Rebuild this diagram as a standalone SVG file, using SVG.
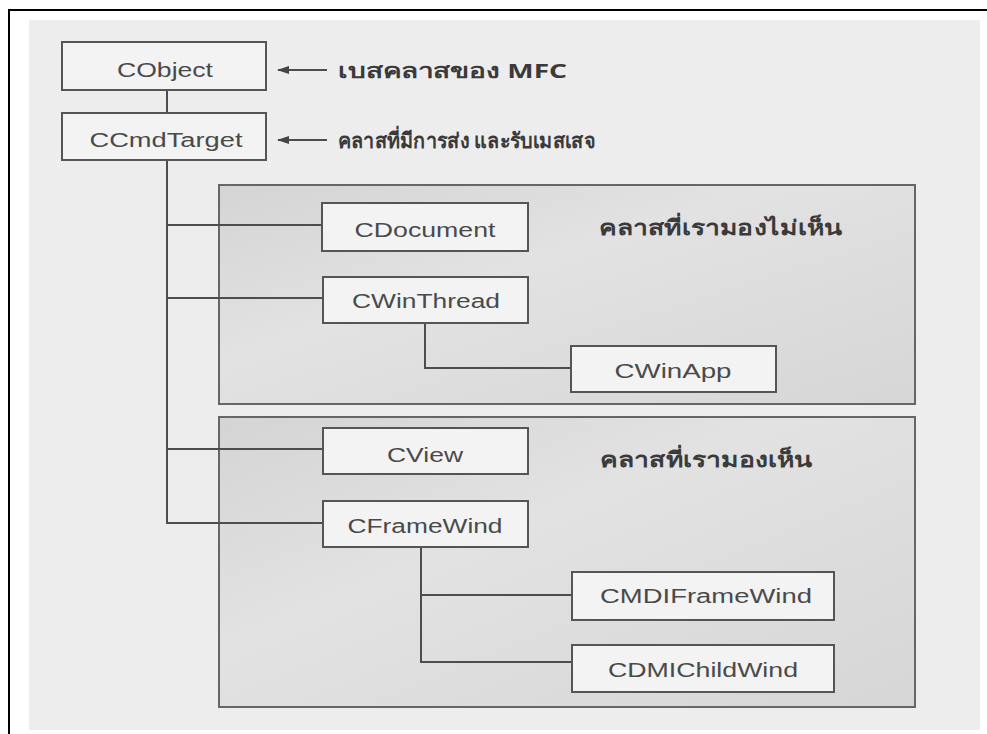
<svg xmlns="http://www.w3.org/2000/svg" width="987" height="734" viewBox="0 0 987 734">
<style>
.box{fill:#f3f3f3;stroke:#555;stroke-width:2}
.panel{fill:url(#pg);stroke:#666;stroke-width:2}
.lbl{font-family:"Liberation Sans",Arial,sans-serif;font-size:20px;fill:#4a4a4a;text-anchor:middle}
.th{font-family:"Noto Sans","DejaVu Sans","Liberation Sans",sans-serif;font-weight:bold;fill:#3a3a3a}
.ln{fill:none;stroke:#4d4d4d;stroke-width:2}
</style>
<defs>
<linearGradient id="pg" x1="0" y1="0" x2="1" y2="1">
<stop offset="0" stop-color="#d4d4d4"/>
<stop offset="0.4" stop-color="#e2e2e2"/>
<stop offset="1" stop-color="#d6d6d6"/>
</linearGradient>
<marker id="ah" viewBox="0 0 12 8" refX="11" refY="4" markerWidth="12" markerHeight="8" orient="auto" markerUnits="userSpaceOnUse">
<path d="M0,0 L12,4 L0,8 Z" fill="#444"/>
</marker>
</defs>
<rect x="0" y="0" width="987" height="734" fill="#fff"/>
<rect x="29" y="20" width="951" height="710" fill="#ededed"/>
<path d="M9,734 V10 H987" fill="none" stroke="#000" stroke-width="2"/>

<g id="panel-invisible">
<rect class="panel" x="219" y="185" width="696" height="219"/>
<text class="th" x="599" y="235" font-size="21" textLength="243" lengthAdjust="spacingAndGlyphs">คลาสที่เรามองไม่เห็น</text>
</g>
<g id="panel-visible">
<rect class="panel" x="219" y="417" width="696" height="290"/>
<text class="th" x="600" y="467" font-size="21" textLength="212" lengthAdjust="spacingAndGlyphs">คลาสที่เรามองเห็น</text>
</g>

<g id="connectors">
<path class="ln" d="M167,90 V113"/>
<path class="ln" d="M167,160 V523 H323"/>
<path class="ln" d="M167,225 H322"/>
<path class="ln" d="M167,298 H323"/>
<path class="ln" d="M167,449 H323"/>
<path class="ln" d="M425,323 V368 H571"/>
<path class="ln" d="M421,547 V662 H572"/>
<path class="ln" d="M421,595 H572"/>
<path class="ln" d="M327,70 H278" marker-end="url(#ah)"/>
<path class="ln" d="M327,140 H278" marker-end="url(#ah)"/>
</g>

<g id="CObject">
<rect class="box" x="62" y="42" width="204" height="48"/>
<text class="lbl" x="165" y="77" textLength="96" lengthAdjust="spacingAndGlyphs">CObject</text>
</g>
<g id="label-base">
<text class="th" x="338" y="78" font-size="20" textLength="229" lengthAdjust="spacingAndGlyphs">เบสคลาสของ MFC</text>
</g>
<g id="CCmdTarget">
<rect class="box" x="62" y="113" width="204" height="47"/>
<text class="lbl" x="166" y="147" textLength="153" lengthAdjust="spacingAndGlyphs">CCmdTarget</text>
</g>
<g id="label-msg">
<text class="th" x="338" y="148" font-size="21" textLength="257" lengthAdjust="spacingAndGlyphs">คลาสที่มีการส่ง และรับเมสเสจ</text>
</g>
<g id="CDocument">
<rect class="box" x="322" y="203" width="206" height="48"/>
<text class="lbl" x="425" y="237" textLength="141" lengthAdjust="spacingAndGlyphs">CDocument</text>
</g>
<g id="CWinThread">
<rect class="box" x="323" y="277" width="205" height="46"/>
<text class="lbl" x="426" y="308" textLength="148" lengthAdjust="spacingAndGlyphs">CWinThread</text>
</g>
<g id="CWinApp">
<rect class="box" x="571" y="346" width="205" height="46"/>
<text class="lbl" x="673" y="378" textLength="117" lengthAdjust="spacingAndGlyphs">CWinApp</text>
</g>
<g id="CView">
<rect class="box" x="323" y="428" width="205" height="46"/>
<text class="lbl" x="425" y="462" textLength="76" lengthAdjust="spacingAndGlyphs">CView</text>
</g>
<g id="CFrameWind">
<rect class="box" x="323" y="501" width="205" height="46"/>
<text class="lbl" x="425" y="533" textLength="155" lengthAdjust="spacingAndGlyphs">CFrameWind</text>
</g>
<g id="CMDIFrameWind">
<rect class="box" x="572" y="572" width="262" height="48"/>
<text class="lbl" x="706" y="603" textLength="212" lengthAdjust="spacingAndGlyphs">CMDIFrameWind</text>
</g>
<g id="CDMIChildWind">
<rect class="box" x="572" y="645" width="262" height="47"/>
<text class="lbl" x="703" y="677" textLength="190" lengthAdjust="spacingAndGlyphs">CDMIChildWind</text>
</g>
</svg>
